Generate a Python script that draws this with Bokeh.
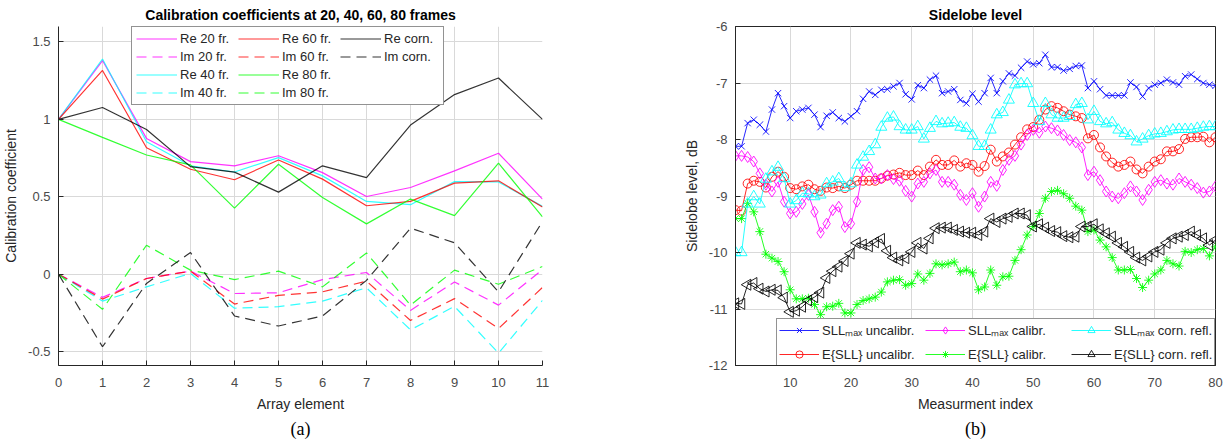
from bokeh.plotting import figure
from bokeh.models import (Range1d, Legend, LegendItem, Title,
                          FixedTicker, PrintfTickFormatter)
from bokeh.layouts import row
from bokeh.embed import file_html
from bokeh.resources import INLINE

# ---------------- data: panel (a) ----------------
elements = list(range(12))
re20 = [1.0, 1.38, 0.877, 0.727, 0.70, 0.765, 0.656, 0.502, 0.56, 0.667, 0.781, 0.485]
im20 = [0.0, -0.15, -0.028, 0.02, -0.125, -0.12, -0.035, 0.011, -0.234, -0.05, -0.20, 0.03]
re40 = [1.0, 1.39, 0.855, 0.70, 0.66, 0.753, 0.635, 0.47, 0.449, 0.598, 0.596, 0.438]
im40 = [0.0, -0.174, -0.082, 0.005, -0.22, -0.21, -0.174, -0.088, -0.36, -0.208, -0.51, -0.17]
re60 = [1.0, 1.316, 0.817, 0.678, 0.61, 0.738, 0.614, 0.442, 0.47, 0.588, 0.603, 0.434]
im60 = [0.0, -0.161, -0.028, 0.02, -0.193, -0.137, -0.114, -0.045, -0.299, -0.158, -0.351, -0.086]
re80 = [1.0, 0.884, 0.77, 0.706, 0.427, 0.71, 0.495, 0.325, 0.485, 0.378, 0.717, 0.37]
im80 = [0.0, -0.227, 0.187, 0.026, -0.035, 0.02, -0.082, 0.137, -0.20, 0.026, -0.065, 0.05]
recorn = [1.0, 1.077, 0.935, 0.695, 0.659, 0.53, 0.70, 0.624, 0.963, 1.16, 1.267, 1.0]
imcorn = [0.0, -0.469, -0.06, 0.14, -0.27, -0.335, -0.27, -0.04, 0.297, 0.203, -0.114, 0.34]
left_yticks = [-0.5, 0, 0.5, 1, 1.5]

# ---------------- data: panel (b) ----------------
meas = list(range(1, 81))
sll_uncal = [-8.12, -8.12, -7.71, -7.65, -7.74, -7.86, -7.47, -7.18, -7.41, -7.62,
             -7.50, -7.47, -7.44, -7.56, -7.78, -7.58, -7.52, -7.62, -7.68, -7.59,
             -7.50, -7.28, -7.15, -7.21, -7.12, -7.11, -7.06, -7.00, -7.20, -7.29,
             -7.04, -7.09, -6.94, -6.87, -7.18, -7.15, -7.11, -7.30, -7.36, -7.19,
             -7.33, -7.18, -6.91, -7.18, -6.97, -6.83, -6.87, -6.73, -6.62, -6.67,
             -6.65, -6.50, -6.72, -6.72, -6.78, -6.75, -6.70, -6.69, -7.09, -6.97,
             -7.11, -7.22, -7.22, -7.22, -7.22, -6.99, -7.07, -7.24, -7.09, -7.03,
             -7.00, -6.94, -6.99, -7.03, -6.88, -6.85, -6.93, -7.00, -7.03, -7.05]
sll_cal = [-8.29, -8.29, -8.31, -8.39, -8.60, -8.80, -8.92, -8.75, -9.10, -9.31,
           -9.28, -9.14, -8.98, -9.28, -9.65, -9.49, -9.25, -9.19, -9.55, -9.49,
           -9.10, -8.54, -8.49, -8.69, -8.69, -8.63, -8.70, -8.73, -8.91, -9.01,
           -8.78, -8.75, -8.60, -8.54, -8.75, -8.75, -8.80, -8.98, -9.07, -8.95,
           -9.19, -9.01, -8.75, -8.82, -8.54, -8.36, -8.29, -8.09, -7.92, -7.83,
           -7.88, -7.77, -7.80, -7.84, -7.92, -8.01, -8.05, -8.14, -8.63, -8.57,
           -8.72, -8.92, -9.01, -9.04, -8.95, -8.83, -8.92, -9.07, -8.89, -8.75,
           -8.72, -8.78, -8.80, -8.69, -8.75, -8.80, -8.86, -8.94, -8.92, -8.83]
sll_corn = [-10.0, -10.0, -9.14, -9.01, -9.14, -8.70, -8.57, -8.49, -8.69, -9.14,
            -9.08, -8.95, -8.96, -9.01, -8.98, -8.78, -8.75, -8.69, -8.85, -8.78,
            -8.45, -8.31, -8.21, -8.09, -7.78, -7.62, -7.60, -7.77, -7.83, -7.83,
            -7.77, -7.99, -7.80, -7.68, -7.72, -7.71, -7.70, -7.78, -7.80, -7.93,
            -8.12, -8.12, -7.83, -7.56, -7.52, -7.30, -7.03, -7.01, -7.01, -7.36,
            -7.68, -7.36, -7.56, -7.62, -7.62, -7.59, -7.38, -7.36, -7.65, -7.50,
            -7.68, -7.72, -7.70, -7.83, -7.89, -7.93, -8.04, -7.99, -7.93, -7.90,
            -7.89, -7.86, -7.83, -7.82, -7.82, -7.82, -7.80, -7.78, -7.77, -7.77]
e_uncal = [-9.25, -9.26, -8.78, -8.73, -8.75, -8.85, -8.66, -8.57, -8.66, -8.86,
           -8.88, -8.83, -8.80, -8.88, -8.91, -8.85, -8.86, -8.83, -8.86, -8.80,
           -8.73, -8.73, -8.73, -8.73, -8.69, -8.64, -8.62, -8.59, -8.63, -8.63,
           -8.55, -8.63, -8.48, -8.36, -8.45, -8.45, -8.37, -8.48, -8.42, -8.45,
           -8.57, -8.47, -8.18, -8.39, -8.30, -8.23, -8.09, -7.96, -7.82, -7.78,
           -7.65, -7.47, -7.41, -7.44, -7.50, -7.56, -7.59, -7.62, -7.98, -7.92,
           -8.14, -8.30, -8.41, -8.48, -8.45, -8.39, -8.53, -8.60, -8.48, -8.39,
           -8.35, -8.21, -8.21, -8.17, -7.99, -7.96, -7.96, -7.95, -8.05, -7.96]
e_cal = [-9.40, -9.40, -9.13, -9.28, -9.63, -10.03, -10.10, -10.16, -10.34, -10.66,
         -10.82, -10.82, -10.81, -10.92, -11.10, -10.96, -10.95, -10.90, -11.07, -11.07,
         -10.92, -10.85, -10.82, -10.79, -10.70, -10.52, -10.49, -10.48, -10.58, -10.55,
         -10.38, -10.49, -10.37, -10.20, -10.22, -10.20, -10.17, -10.34, -10.31, -10.36,
         -10.66, -10.61, -10.31, -10.58, -10.43, -10.42, -10.14, -9.95, -9.69, -9.54,
         -9.31, -9.04, -8.92, -8.90, -8.96, -9.04, -9.18, -9.25, -9.63, -9.60,
         -9.78, -9.90, -10.09, -10.31, -10.31, -10.30, -10.46, -10.62, -10.49, -10.38,
         -10.31, -10.14, -10.20, -10.24, -9.98, -10.00, -9.95, -9.93, -10.06, -9.90]
e_corn = [-10.90, -10.91, -10.57, -10.54, -10.64, -10.69, -10.66, -10.67, -10.80, -11.05,
          -11.03, -10.96, -10.85, -10.79, -10.71, -10.45, -10.33, -10.25, -10.15, -10.02,
          -9.83, -9.86, -9.89, -9.82, -9.76, -9.97, -10.09, -10.14, -10.10, -9.99,
          -9.83, -9.93, -9.75, -9.57, -9.56, -9.56, -9.60, -9.63, -9.65, -9.65,
          -9.69, -9.63, -9.40, -9.46, -9.40, -9.37, -9.31, -9.31, -9.34, -9.54,
          -9.50, -9.56, -9.62, -9.64, -9.71, -9.73, -9.72, -9.54, -9.54, -9.50,
          -9.59, -9.66, -9.72, -9.83, -9.90, -9.99, -10.09, -10.14, -10.07, -9.99,
          -9.95, -9.83, -9.75, -9.72, -9.69, -9.63, -9.69, -9.75, -9.87, -9.78]
right_xticks = [10, 20, 30, 40, 50, 60, 70, 80]
right_yticks = [-12, -11, -10, -9, -8, -7, -6]

FONT = "Liberation Sans"
AX = "#262626"
TICK = "#4a4a4a"
GRID = "#d9d9d9"


def style_axis(ax, ticks):
    ax.ticker = FixedTicker(ticks=ticks)
    ax.formatter = PrintfTickFormatter(format="%g")
    ax.axis_line_color = AX
    ax.major_tick_line_color = AX
    ax.major_tick_in = 5
    ax.major_tick_out = 0
    ax.minor_tick_line_color = None
    ax.major_label_text_font = FONT
    ax.major_label_text_font_size = "13px"
    ax.major_label_text_color = TICK
    ax.major_label_standoff = 12
    ax.axis_label_text_font = FONT
    ax.axis_label_text_font_size = "14px"
    ax.axis_label_text_font_style = "normal"
    ax.axis_label_text_color = AX
    ax.axis_label_standoff = 6


def base_fig(title, xr, yr, frame_w, left, right):
    p = figure(frame_width=frame_w, frame_height=339, output_backend="svg",
               toolbar_location=None, x_range=xr, y_range=yr,
               min_border_left=left, min_border_right=right,
               min_border_top=24, min_border_bottom=0)
    p.title.text = title
    p.title.text_font = FONT
    p.title.text_font_size = "14px"
    p.title.text_font_style = "bold"
    p.title.text_color = "black"
    p.title.align = "center"
    p.title.offset = 0
    p.title.standoff = 8
    p.xgrid.grid_line_color = GRID
    p.ygrid.grid_line_color = GRID
    p.background_fill_color = "white"
    p.border_fill_color = "white"
    return p


def style_legend(leg, gw, gh, lh, lw, standoff, spacing, padding):
    leg.label_text_font = FONT
    leg.label_text_font_size = "13px"
    leg.label_text_color = AX
    leg.glyph_width = gw
    leg.glyph_height = gh
    leg.label_height = lh
    leg.label_width = lw
    leg.label_standoff = standoff
    leg.spacing = spacing
    leg.padding = padding
    leg.margin = 0
    leg.border_line_color = AX
    leg.border_line_width = 1
    leg.background_fill_alpha = 1


# ---------------- panel (a) ----------------
p1 = base_fig("Calibration coefficients at 20, 40, 60, 80 frames",
              Range1d(0, 11), Range1d(-0.59, 1.6), 484, 53, 75)
p1.outline_line_color = None
style_axis(p1.xaxis[0], elements)
style_axis(p1.yaxis[0], left_yticks)
p1.yaxis[0].major_label_standoff = 8
p1.xaxis[0].axis_label = "Array element"
p1.yaxis[0].axis_label = "Calibration coefficient"
p1.xgrid.ticker = FixedTicker(ticks=elements)
p1.ygrid.ticker = FixedTicker(ticks=left_yticks)

series_a = [
    ("Re 20 fr.", re20, "#ff00ff", "solid"),
    ("Im 20 fr.", im20, "#ff00ff", "dashed"),
    ("Re 40 fr.", re40, "#00ffff", "solid"),
    ("Im 40 fr.", im40, "#00ffff", "dashed"),
    ("Re 60 fr.", re60, "#ff0000", "solid"),
    ("Im 60 fr.", im60, "#ff0000", "dashed"),
    ("Re 80 fr.", re80, "#00ff00", "solid"),
    ("Im 80 fr.", im80, "#00ff00", "dashed"),
    ("Re corn.", recorn, "#000000", "solid"),
    ("Im corn.", imcorn, "#000000", "dashed"),
]
items_a = []
for lab, ys, col, dash in series_a:
    r = p1.line(elements, ys, line_color=col, line_width=1.2,
                line_dash="10 6" if dash == "dashed" else "solid", line_alpha=0.8)
    items_a.append(LegendItem(label=lab, renderers=[r]))

leg_a = Legend(items=items_a, location=(73, 260), orientation="vertical", nrows=4)
style_legend(leg_a, 41, 15, 15, 55, 3, 3, 4)
p1.add_layout(leg_a, "center")

cap_a = Title(text="(a)", align="center", text_font="Liberation Serif",
              text_font_size="18px", text_font_style="normal", text_color="black",
              standoff=5)
p1.add_layout(cap_a, "below")

# ---------------- panel (b) ----------------
p2 = base_fig("Sidelobe level", Range1d(1, 80), Range1d(-12, -6), 480, 118, 8)
p2.outline_line_color = AX
style_axis(p2.xaxis[0], right_xticks)
style_axis(p2.yaxis[0], right_yticks)
p2.yaxis[0].major_label_standoff = 8
p2.xaxis[0].axis_label = "Measurment index"
p2.yaxis[0].axis_label = "Sidelobe level, dB"
p2.xgrid.ticker = FixedTicker(ticks=right_xticks)
p2.ygrid.ticker = FixedTicker(ticks=right_yticks)

series_b = [
    ("SLL\u2098\u2090\u2093 uncalibr.", sll_uncal, "#0000ff", "x", 0),
    ("E{SLL} uncalibr.", e_uncal, "#ff0000", "circle", 0),
    ("SLL\u2098\u2090\u2093 calibr.", sll_cal, "#ff00ff", "diamond", 0),
    ("E{SLL} calibr.", e_cal, "#00ff00", "asterisk", 0),
    ("SLL\u2098\u2090\u2093 corn. refl.", sll_corn, "#00ffff", "triangle", 0),
    ("E{SLL} corn. refl.", e_corn, "#000000", "triangle", 1.5708),
]
items_b = []
for lab, ys, col, mk, ang in series_b:
    rl = p2.line(meas, ys, line_color=col, line_width=1, line_alpha=0.85)
    sz = 11 if mk in ("diamond", "triangle") else 9
    rs = p2.scatter(meas, ys, marker=mk, size=sz, angle=ang, line_color=col,
                    fill_color=None, line_width=1, line_alpha=0.85)
    items_b.append(LegendItem(label=lab, renderers=[rl, rs]))

leg_b = Legend(items=items_b, location=(41, -1), orientation="vertical", nrows=2)
style_legend(leg_b, 40, 18, 18, 97, 3, 6, 2)
p2.add_layout(leg_b, "center")

cap_b = Title(text="(b)", align="center", text_font="Liberation Serif",
              text_font_size="18px", text_font_style="normal", text_color="black",
              standoff=5)
p2.add_layout(cap_b, "below")

layout = row(p1, p2)
open("out.html", "w").write(file_html(layout, INLINE))
